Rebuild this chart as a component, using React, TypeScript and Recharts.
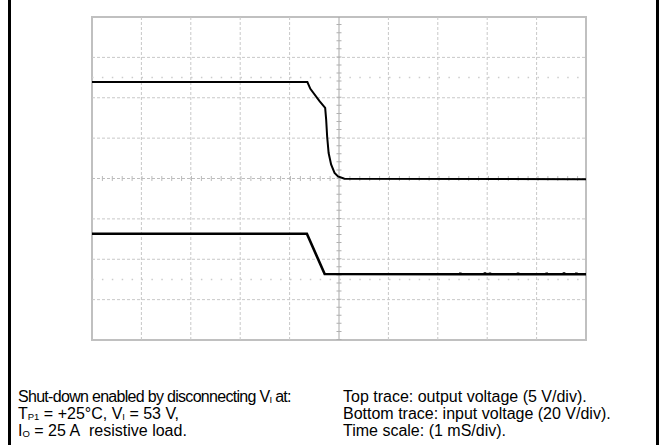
import React from "react";
import { LineChart, Line, XAxis, YAxis, ReferenceLine, ReferenceArea } from "recharts";

// Time axis: milliseconds (1 ms/div), 10 divisions
const xTicks = [0, 1, 2, 3, 4, 5, 6, 7, 8, 9, 10];
// Vertical axis: screen divisions, 8 divisions
const yTicks = [0, 1, 2, 3, 4, 5, 6, 7, 8];

// Top trace: output voltage (in divisions, 5 V/div)
const topTime = [0, 4.36, 4.42, 4.61, 4.72, 4.74, 4.76, 4.79, 4.84, 4.91, 4.98, 5.11, 10];
const topDiv = [6.39, 6.39, 6.22, 5.91, 5.75, 5.46, 5.04, 4.63, 4.35, 4.14, 4.05, 3.995, 3.98];

// Bottom trace: input voltage (in divisions, 20 V/div), with a few noise spikes
const bottomTime = [0, 4.35, 4.71, 7.45, 7.455, 7.46, 7.95, 7.955, 7.96, 8.05, 8.055, 8.06, 8.62, 8.625, 8.63, 9.2, 9.205, 9.21, 9.55, 9.555, 9.56, 9.8, 9.805, 9.81, 10];
const bottomDiv = [2.63, 2.63, 1.636, 1.63, 1.67, 1.63, 1.63, 1.675, 1.63, 1.63, 1.67, 1.63, 1.63, 1.665, 1.63, 1.63, 1.67, 1.63, 1.63, 1.675, 1.63, 1.63, 1.67, 1.63, 1.63];

const topData = topTime.map((t, i) => ({ t, v: topDiv[i] }));
const bottomData = bottomTime.map((t, i) => ({ t, v: bottomDiv[i] }));

const gridColor = "#c8c8c8";

const textStyle: React.CSSProperties = {
  position: "absolute",
  fontFamily: "'Liberation Sans', Arial, sans-serif",
  fontSize: 16,
  color: "#000",
  whiteSpace: "nowrap",
  lineHeight: "16px",
  height: 16,
};
const subStyle: React.CSSProperties = { fontSize: 9.5, verticalAlign: "-1px", lineHeight: 0 };

export default function App() {
  return (
    <div style={{ position: "absolute", left: 0, top: 0, width: 664, height: 445, background: "#fff", overflow: "hidden" }}>
      <div style={{ position: "absolute", left: 8, top: 0, width: 3, height: 445, background: "#000" }} />
      <div style={{ position: "absolute", left: 656, top: 0, width: 3, height: 445, background: "#000" }} />
      <div style={{ position: "absolute", left: 0, top: 0 }}>
        <LineChart width={664} height={445} margin={{ top: 17, right: 78, bottom: 105, left: 92 }}>
          <XAxis type="number" dataKey="t" domain={[0, 10]} ticks={xTicks} hide allowDataOverflow />
          <YAxis type="number" dataKey="v" domain={[0, 8]} ticks={yTicks} hide allowDataOverflow />
          {xTicks.filter((x) => x > 0 && x < 10 && x !== 5).map((x) => (
            <ReferenceLine key={"gx" + x} x={x} stroke={gridColor} strokeDasharray="3 2" />
          ))}
          {yTicks.filter((y) => y > 0 && y < 8 && y !== 4).map((y) => (
            <ReferenceLine key={"gy" + y} y={y} stroke={gridColor} strokeDasharray="3 2" />
          ))}
          <ReferenceLine y={4} stroke="#bdbdbd" strokeDasharray="3 2" />
          <ReferenceLine y={4} stroke="#bcbcbc" strokeWidth={5} strokeDasharray="1 8.9" />
          <ReferenceLine y={6.5} stroke="#cccccc" strokeWidth={1.5} strokeDasharray="1.5 8.4" />
          <ReferenceLine y={1.5} stroke="#cccccc" strokeWidth={1.5} strokeDasharray="1.5 8.4" />
          <ReferenceLine x={5} stroke="#a8a8a8" />
          <ReferenceLine x={5} stroke="#b0b0b0" strokeWidth={5} strokeDasharray="1 7.075" />
          <ReferenceArea x1={0} x2={10} y1={0} y2={8} stroke="#c0c0c0" strokeWidth={2} fill="none" fillOpacity={0} />
          <Line data={topData} dataKey="v" type="linear" stroke="#000" strokeWidth={2} dot={false} isAnimationActive={false} />
          <Line data={bottomData} dataKey="v" type="linear" stroke="#000" strokeWidth={2.6} dot={false} isAnimationActive={false} />
        </LineChart>
      </div>
      <div style={{ ...textStyle, left: 18, top: 389, letterSpacing: "-0.7px" }}>
        Shut-down enabled by disconnecting V<sub style={subStyle}>I</sub> at:
      </div>
      <div style={{ ...textStyle, left: 18, top: 406 }}>
        T<sub style={subStyle}>P1</sub> = +25°C, V<sub style={subStyle}>I</sub> = 53 V,
      </div>
      <div style={{ ...textStyle, left: 18, top: 423 }}>
        I<sub style={subStyle}>O</sub> = 25 A&nbsp; resistive load.
      </div>
      <div style={{ ...textStyle, left: 343, top: 389 }}>Top trace: output voltage (5 V/div).</div>
      <div style={{ ...textStyle, left: 343, top: 406 }}>Bottom trace: input voltage (20 V/div).</div>
      <div style={{ ...textStyle, left: 343, top: 423 }}>Time scale: (1 mS/div).</div>
    </div>
  );
}
